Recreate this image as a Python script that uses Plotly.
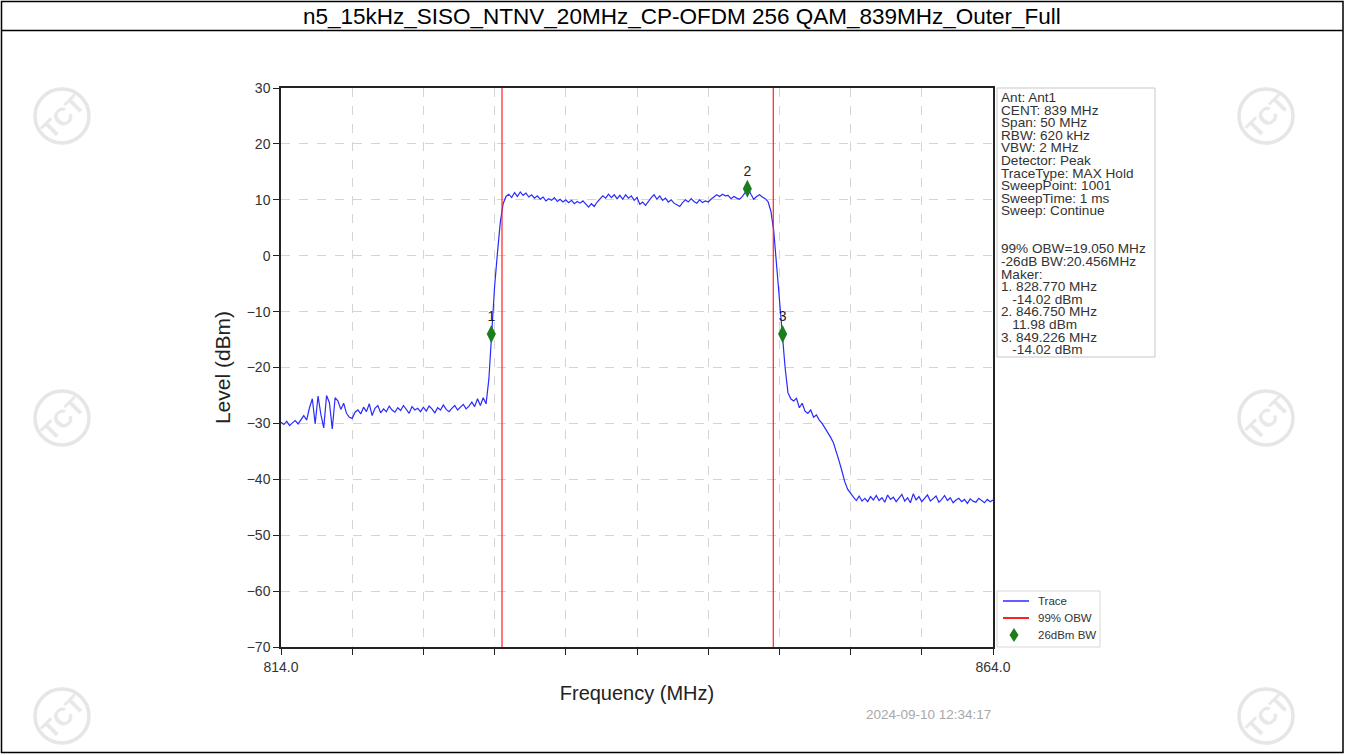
import numpy as np
import plotly.graph_objects as go

# ---- figure geometry (pixels) ----
W, H = 1345, 754
L, R, T, B = 281, 993, 88, 647  # plot area edges


def px(x):
    return (x - L) / (R - L)


def py(y):
    return (B - y) / (B - T)


TITLE = "n5_15kHz_SISO_NTNV_20MHz_CP-OFDM 256 QAM_839MHz_Outer_Full"

# ---- spectrum trace (MAX Hold), 0.2 MHz steps from 814 to 864 MHz ----
f_start, f_stop = 814.0, 864.0
freq = np.linspace(f_start, f_stop, 251)
level = [
    -29.8, -30.2, -29.6, -30.4, -29.9, -29.5, -30.1, -29.3, -28.6, -29.4,
    -27.2, -25.6, -30.1, -25.1, -28.4, -30.8, -25.0, -26.3, -31.0, -25.4,
    -26.0, -27.5, -26.4, -28.2, -28.9, -29.1, -28.0, -27.6, -28.3, -27.1,
    -27.9, -26.5, -28.6, -27.3, -26.8, -28.1, -27.4, -27.9, -26.9, -27.6,
    -28.0, -27.2, -27.7, -26.8, -27.5, -28.2, -27.0, -27.6, -27.3, -27.9,
    -27.1, -27.8, -26.9, -27.4, -28.1, -27.2, -27.6, -26.7, -27.5, -27.9,
    -27.3, -26.8, -27.6, -27.1, -26.6, -27.4, -26.9, -26.2, -27.0, -25.6,
    -26.8, -25.4, -26.5, -22.0, -13.0, -5.5, 0.5, 6.0, 9.3, 10.6,
    11.0, 10.4, 11.3, 10.6, 11.4, 10.8, 11.2, 10.5, 10.9, 10.3,
    10.7, 10.1, 10.5, 9.8, 10.2, 9.9, 10.4, 9.7, 10.1, 9.6,
    10.0, 9.5, 9.9, 9.3, 9.7, 9.4, 9.8, 9.2, 8.7, 9.3,
    8.8, 9.6, 10.1, 10.7, 10.3, 11.0, 10.4, 10.9, 10.2, 10.8,
    10.1, 10.9, 10.3, 10.7, 9.9, 10.4, 9.2, 9.6, 9.0, 9.8,
    10.4, 10.9, 10.1, 10.7, 9.9, 10.3, 9.6, 10.0, 9.4, 9.1,
    8.8, 9.5, 10.0, 9.6, 10.2, 9.7, 9.4, 10.0, 9.5, 9.8,
    9.6, 10.1, 10.5, 10.9, 10.6, 11.0, 10.7, 10.8, 10.2, 10.6,
    10.3, 10.1, 10.6, 11.2, 12.0, 11.0, 10.1, 10.6, 10.9, 10.5,
    10.2, 9.7, 8.0, 4.5, -2.0, -7.5, -14.0, -20.0, -24.5, -25.6,
    -26.0, -25.5, -27.2, -26.4, -27.8, -28.2, -27.6, -28.9, -28.5, -29.4,
    -30.0, -30.8, -31.6, -32.5, -33.5, -35.0, -36.8, -38.6, -40.5, -41.8,
    -42.6, -43.2, -43.8, -43.0, -43.9, -43.4, -44.0, -43.1, -43.7, -42.9,
    -43.8, -43.3, -44.1, -42.8, -43.6, -43.2, -44.0, -43.4, -42.7, -43.9,
    -43.3, -44.2, -42.6, -43.7, -43.1, -44.0, -43.4, -42.8, -43.9, -43.5,
    -43.0, -44.1, -43.6, -42.9, -43.8, -43.3, -44.2, -43.7, -43.4, -44.0,
    -43.6, -44.3, -43.5, -43.9, -44.1, -43.4, -43.8, -44.2, -43.6, -44.0,
    -43.7,
]

# 99% occupied bandwidth edges (MHz)
obw_edges = [829.52, 848.57]

# -26 dB bandwidth markers
marker_ids = ["1", "2", "3"]
marker_freq = [828.770, 846.750, 849.226]
marker_level = [-14.02, 11.98, -14.02]

# axis ticks
x_tick_vals = [814, 819, 824, 829, 834, 839, 844, 849, 854, 859, 864]
x_tick_text = ["814.0", "", "", "", "", "", "", "", "", "", "864.0"]
y_tick_vals = [30, 20, 10, 0, -10, -20, -30, -40, -50, -60, -70]

NB = "\u00a0"
info_lines = [
    "Ant: Ant1",
    "CENT: 839 MHz",
    "Span: 50 MHz",
    "RBW: 620 kHz",
    "VBW: 2 MHz",
    "Detector: Peak",
    "TraceType: MAX Hold",
    "SweepPoint: 1001",
    "SweepTime: 1 ms",
    "Sweep: Continue",
    "",
    "",
    "99% OBW=19.050 MHz",
    "-26dB BW:20.456MHz",
    "Maker:",
    "1. 828.770 MHz",
    NB * 3 + "-14.02 dBm",
    "2. 846.750 MHz",
    NB * 3 + "11.98 dBm",
    "3. 849.226 MHz",
    NB * 3 + "-14.02 dBm",
]

legend_names = ["Trace", "99% OBW", "26dBm BW"]
timestamp = "2024-09-10 12:34:17"

TRACE_BLUE = "#2a2aff"
OBW_RED = "#ff2020"
MK_GREEN = "#1b7d1b"
FONT = "Liberation Sans, Arial, sans-serif"

fig = go.Figure()

fig.add_trace(go.Scatter(
    x=freq, y=level, mode="lines",
    line=dict(color=TRACE_BLUE, width=1.2),
    hoverinfo="skip", showlegend=False,
))

fig.add_trace(go.Scatter(
    x=marker_freq, y=marker_level, mode="markers+text",
    text=marker_ids, textposition="top center",
    textfont=dict(family=FONT, size=14, color="#222"),
    marker=dict(symbol="diamond-tall", size=13, color=MK_GREEN),
    hoverinfo="skip", showlegend=False, cliponaxis=False,
))

shapes = []
# OBW limit lines
for fe in obw_edges:
    shapes.append(dict(type="line", xref="x", yref="paper", x0=fe, x1=fe,
                       y0=0, y1=1, line=dict(color=OBW_RED, width=1.2)))

# outer frame and title divider
shapes.append(dict(type="rect", xref="paper", yref="paper",
                   x0=px(1.5), x1=px(1343), y0=py(752.5), y1=py(1.5),
                   line=dict(color="black", width=1.5)))
shapes.append(dict(type="line", xref="paper", yref="paper",
                   x0=px(1.5), x1=px(1343), y0=py(30.5), y1=py(30.5),
                   line=dict(color="black", width=1.5)))

# watermark rings
wm_centers = [(62, 116), (1266, 116), (62, 418), (1266, 418), (62, 716), (1266, 716)]
for cx, cy in wm_centers:
    shapes.append(dict(type="circle", xref="paper", yref="paper", layer="below",
                       x0=px(cx - 27), x1=px(cx + 27), y0=py(cy + 27), y1=py(cy - 27),
                       line=dict(color="#e6e6e6", width=3.5)))

# info panel
shapes.append(dict(type="rect", xref="paper", yref="paper",
                   x0=px(997), x1=px(1155), y0=py(357), y1=py(88),
                   line=dict(color="#c8c8c8", width=1), fillcolor="white"))

# legend panel
shapes.append(dict(type="rect", xref="paper", yref="paper",
                   x0=px(997), x1=px(1100), y0=py(647), y1=py(591),
                   line=dict(color="#d8d8d8", width=1), fillcolor="white"))
shapes.append(dict(type="line", xref="paper", yref="paper",
                   x0=px(1003), x1=px(1029), y0=py(601), y1=py(601),
                   line=dict(color=TRACE_BLUE, width=1.5)))
shapes.append(dict(type="line", xref="paper", yref="paper",
                   x0=px(1003), x1=px(1029), y0=py(618), y1=py(618),
                   line=dict(color=OBW_RED, width=2)))
dcx, dcy = 1014, 635
shapes.append(dict(type="path", xref="paper", yref="paper",
                   path=(f"M {px(dcx)} {py(dcy - 7)} L {px(dcx + 4.5)} {py(dcy)} "
                         f"L {px(dcx)} {py(dcy + 7)} L {px(dcx - 4.5)} {py(dcy)} Z"),
                   line=dict(color=MK_GREEN, width=0), fillcolor=MK_GREEN))

annotations = []
annotations.append(dict(text=TITLE, xref="paper", yref="paper", x=px(682), y=py(16),
                        xanchor="center", yanchor="middle", showarrow=False,
                        font=dict(family="Liberation Sans Narrow, Arial Narrow, Liberation Sans",
                                  size=22.5, color="black")))

for cx, cy in wm_centers:
    annotations.append(dict(text="<b>TCT</b>", xref="paper", yref="paper", x=px(cx + 1), y=py(cy),
                            xanchor="center", yanchor="middle", showarrow=False,
                            textangle=-45,
                            font=dict(family=FONT, size=25, color="#e8e8e8")))

# instrument settings block: tight line pitch (base font sets the pitch),
# glyphs rendered larger through an inline span
info_html = "<br>".join(
    f'<span style="font-size:13.6px">{ln}</span>' if ln else "" for ln in info_lines
)
annotations.append(dict(text=info_html, xref="paper", yref="paper",
                        x=px(999), y=py(88.5), xanchor="left", yanchor="top",
                        align="left", showarrow=False,
                        font=dict(family=FONT, size=9.7, color="#333")))

for name, yy in zip(legend_names, [601, 618, 635]):
    annotations.append(dict(text=name, xref="paper", yref="paper",
                            x=px(1036), y=py(yy), xanchor="left", yanchor="middle",
                            showarrow=False, font=dict(family=FONT, size=11.5, color="#333")))

annotations.append(dict(text=timestamp, xref="paper", yref="paper", x=px(928), y=py(714),
                        xanchor="center", yanchor="middle", showarrow=False,
                        font=dict(family=FONT, size=13.5, color="#a8a8a8")))

fig.update_layout(
    width=W, height=H, autosize=False,
    margin=dict(l=L, r=W - R, t=T, b=H - B, pad=0),
    paper_bgcolor="white", plot_bgcolor="white",
    shapes=shapes, annotations=annotations, showlegend=False,
    font=dict(family=FONT, color="#333"),
    xaxis=dict(
        range=[f_start, f_stop], tickmode="array",
        tickvals=x_tick_vals, ticktext=x_tick_text,
        ticks="outside", ticklen=6, tickcolor="#222",
        tickfont=dict(size=14, color="#333"),
        showline=True, linecolor="#222", linewidth=1.5, mirror=True,
        showgrid=True, gridcolor="#d4d4d4", griddash="dash", gridwidth=1,
        zeroline=False,
        title=dict(text="Frequency (MHz)", font=dict(size=20, color="#222"), standoff=12),
    ),
    yaxis=dict(
        range=[-70, 30], tickmode="array", tickvals=y_tick_vals,
        ticks="outside", ticklen=6, tickcolor="#222",
        tickfont=dict(size=14, color="#333"),
        showline=True, linecolor="#222", linewidth=1.5, mirror=True,
        showgrid=True, gridcolor="#d4d4d4", griddash="dash", gridwidth=1,
        zeroline=False,
        title=dict(text="Level (dBm)", font=dict(size=21, color="#222"), standoff=10),
    ),
)

fig.write_html("out.html")
